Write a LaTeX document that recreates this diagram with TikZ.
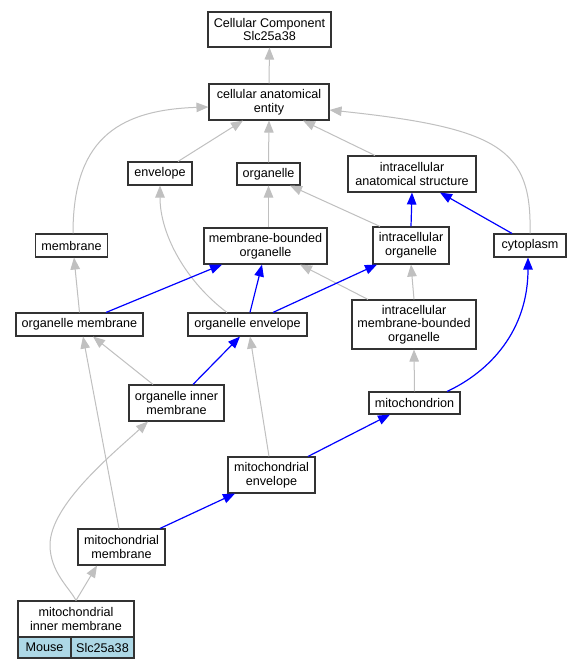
\documentclass[tikz,border=0pt]{standalone}
\usepackage{fontspec}
\setmainfont{Liberation Sans}
\usetikzlibrary{arrows.meta}
\definecolor{edgegray}{HTML}{C0C0C0}
\definecolor{boxline}{HTML}{333333}
\definecolor{cellblue}{HTML}{ADD8E6}
\tikzset{
  term/.style={draw=boxline, line width=1.1pt, fill=white, align=center, inner sep=0pt,
    font=\fontsize{12.6}{13.6}\selectfont},
  cell/.style={term, fill=cellblue},
  tip/.style={-{Triangle[length=12pt,width=9.5pt]}},
  isa/.style={draw=edgegray, line width=1pt, tip, color=edgegray},
  partof/.style={draw=blue, line width=1.2pt, tip, color=blue}
}
\begin{document}
\begin{tikzpicture}[x=1pt,y=-1pt]
\useasboundingbox[fill=white] (0,0) rectangle (580,669);
% nodes
\node[term, minimum width=123pt, minimum height=35pt] (CC) at (269.5,29.5) {Cellular Component\\Slc25a38};
\node[term, minimum width=120pt, minimum height=36pt] (cae) at (269,102) {cellular anatomical\\entity};
\node[term, minimum width=64pt, minimum height=23pt] (env) at (160,173.5) {envelope};
\node[term, minimum width=63pt, minimum height=22pt] (org) at (268.5,174) {organelle};
\node[term, minimum width=128pt, minimum height=36pt] (ias) at (412,174) {intracellular\\anatomical structure};
\node[term, minimum width=72pt, minimum height=23pt] (mem) at (71.5,245.5) {membrane};
\node[term, minimum width=123pt, minimum height=36pt] (mbo) at (265.5,246) {membrane-bounded\\organelle};
\node[term, minimum width=76pt, minimum height=37pt] (io) at (411,245.5) {intracellular\\organelle};
\node[term, minimum width=72pt, minimum height=23pt] (cyt) at (530,245.5) {cytoplasm};
\node[term, minimum width=127pt, minimum height=23pt] (om) at (79.5,324.5) {organelle membrane};
\node[term, minimum width=119pt, minimum height=23pt] (oe) at (247.5,324.5) {organelle envelope};
\node[term, minimum width=124pt, minimum height=49pt] (imbo) at (414,324.5) {intracellular\\membrane-bounded\\organelle};
\node[term, minimum width=95pt, minimum height=36pt] (oim) at (176.5,403) {organelle inner\\membrane};
\node[term, minimum width=91pt, minimum height=22pt] (mito) at (414.5,403) {mitochondrion};
\node[term, minimum width=87pt, minimum height=36pt] (me) at (271.5,475) {mitochondrial\\envelope};
\node[term, minimum width=87pt, minimum height=36pt] (mm) at (121.5,547) {mitochondrial\\membrane};
\node[term, minimum width=116pt, minimum height=36pt] (mim) at (76,619) {mitochondrial\\inner membrane};
\node[cell, minimum width=53pt, minimum height=21pt] (mouse) at (44.5,647.5) {Mouse};
\node[cell, minimum width=63pt, minimum height=21pt] (gene) at (102.5,647.5) {Slc25a38};
\coordinate (bend) at (50,545);
% is_a edges
\draw[isa] (cae.north) -- (CC.south);
\draw[isa] ([xshift=18pt]env.north) -- ([xshift=-26pt]cae.south);
\draw[isa] (org.north) -- (cae.south);
\draw[isa] ([xshift=-37pt]ias.north) -- ([xshift=34pt]cae.south);
\draw[isa] ([xshift=1.5pt]mem.north) .. controls +(0,-90) and +(-95,3) .. ([yshift=-5pt]cae.west);
\draw[isa] (cyt.north) .. controls +(2,-84) and +(171,18) .. ([yshift=-8pt]cae.east);
\draw[isa] ([xshift=3pt]mbo.north) -- (org.south);
\draw[isa] ([xshift=-31pt]io.north) -- ([xshift=21.5pt]org.south);
\draw[isa] ([xshift=-20.5pt]oe.north) .. controls +(-40,-30) and +(0,50) .. (env.south);
\draw[isa] (om.north) -- ([xshift=2.5pt]mem.south);
\draw[isa] ([xshift=-46pt]imbo.north) -- ([xshift=34.5pt]mbo.south);
\draw[isa] (imbo.north) -- (io.south);
\draw[isa] ([xshift=-23.5pt]oim.north) -- ([xshift=13.5pt]om.south);
\draw[isa] ([xshift=-2.5pt]mm.north) -- ([xshift=3.5pt]om.south);
\draw[isa] ([xshift=-2.5pt]me.north) -- ([xshift=2.5pt]oe.south);
\draw[isa] (mito.north) -- (imbo.south);
\draw[isa] (mim.north) -- ([xshift=-24.5pt]mm.south);
\draw[isa] (mim.north) .. controls +(-6,-12) and +(0,27) .. (bend)
  .. controls +(0,-40) and +(-35,32) .. ([xshift=-28.5pt]oim.south);
% part_of edges
\draw[partof] (io.north) -- (ias.south);
\draw[partof] ([xshift=-18pt]cyt.north) -- ([xshift=28pt]ias.south);
\draw[partof] ([xshift=26.5pt]om.north) -- ([xshift=-43.5pt]mbo.south);
\draw[partof] ([xshift=2.5pt]oe.north) -- ([xshift=-3.5pt]mbo.south);
\draw[partof] ([xshift=25.5pt]oe.north) -- ([xshift=-34pt]io.south);
\draw[partof] ([xshift=16.5pt]oim.north) -- ([xshift=-7.5pt]oe.south);
\draw[partof] ([xshift=32.5pt]mito.north) .. controls +(43,-20) and +(0,73) .. ([xshift=-2pt]cyt.south);
\draw[partof] ([xshift=36.5pt]me.north) -- ([xshift=-24.5pt]mito.south);
\draw[partof] ([xshift=38.5pt]mm.north) -- ([xshift=-36.5pt]me.south);
\end{tikzpicture}
\end{document}
